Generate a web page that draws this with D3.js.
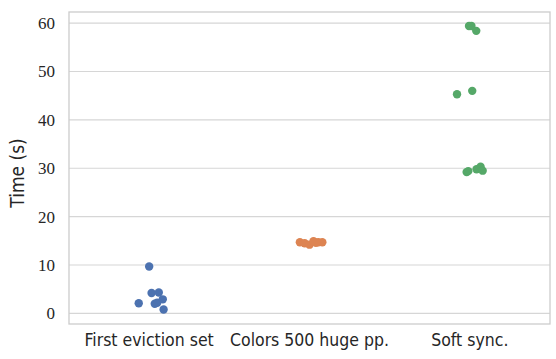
<!DOCTYPE html>
<html><head><meta charset="utf-8">
<script src="https://cdn.jsdelivr.net/npm/d3@7"></script>
<style>body{margin:0;background:#fff}svg{display:block}</style>
</head><body>
<svg id="c" width="556" height="359"></svg>
<script>
const categories = ["First eviction set", "Colors 500 huge pp.", "Soft sync."];
const colors = ["#4C72B0", "#DD8452", "#55A868"];
const evictionTimes = [9.7, 4.2, 4.3, 2.1, 2.0, 2.2, 2.9, 0.8];
const evictionJitter = [0.0, 0.015, 0.06, -0.065, 0.035, 0.05, 0.085, 0.09];
const colorsTimes = [14.7, 14.5, 14.2, 14.9, 14.7, 14.7, 14.6];
const colorsJitter = [-0.06, -0.03, 0.0, 0.025, 0.055, 0.08, 0.04];
const softTimes = [59.4, 59.4, 58.4, 45.3, 46.0, 29.2, 29.4, 29.8, 30.3, 29.5];
const softJitter = [-0.005, 0.01, 0.04, -0.08, 0.015, -0.02, -0.01, 0.042, 0.067, 0.08];
const yTicks = [0, 10, 20, 30, 40, 50, 60];

const series = [
  {cat: categories[0], vals: evictionTimes, jit: evictionJitter, color: colors[0]},
  {cat: categories[1], vals: colorsTimes, jit: colorsJitter, color: colors[1]},
  {cat: categories[2], vals: softTimes, jit: softJitter, color: colors[2]}
];

const svg = d3.select("#c");
const m = {l: 69, r: 6, t: 12, b: 35};
const W = 556, H = 359;
const x = d3.scaleBand().domain(categories).range([m.l, W - m.r]).padding(0);
const y = d3.scaleLinear().domain([-2.2, 62.3]).range([H - m.b, m.t]);

const grid = "#d6d6d6";
svg.append("g").selectAll("line").data(yTicks).join("line")
  .attr("x1", m.l).attr("x2", W - m.r)
  .attr("y1", d => y(d)).attr("y2", d => y(d))
  .attr("stroke", grid).attr("stroke-width", 1.2);

svg.append("rect").attr("x", m.l).attr("y", m.t)
  .attr("width", W - m.r - m.l).attr("height", H - m.b - m.t)
  .attr("fill", "none").attr("stroke", "#cccccc").attr("stroke-width", 1.3);

const ya = svg.append("g").attr("transform", `translate(${m.l},0)`)
  .call(d3.axisLeft(y).tickValues(yTicks).tickSize(0).tickPadding(14));
ya.select(".domain").remove();
ya.selectAll("text").attr("font-family", "'Liberation Serif', serif").attr("font-size", 17).attr("fill", "#262626");

const xa = svg.append("g").attr("transform", `translate(0,${H - m.b})`)
  .call(d3.axisBottom(x).tickSize(0).tickPadding(10));
xa.select(".domain").remove();
xa.selectAll("text").attr("font-family", "'DejaVu Sans Condensed', 'DejaVu Sans', sans-serif")
  .attr("font-stretch", "condensed").attr("font-size", 17.5).attr("fill", "#262626");

svg.append("text").attr("transform", `translate(24,173) rotate(-90)`)
  .attr("text-anchor", "middle").attr("font-family", "'DejaVu Sans Condensed', 'DejaVu Sans', sans-serif")
  .attr("font-stretch", "condensed")
  .attr("font-size", 19).attr("fill", "#262626").text("Time (s)");

series.forEach(s => {
  svg.append("g").selectAll("circle").data(s.vals).join("circle")
    .attr("cx", (d, i) => x(s.cat) + x.bandwidth() / 2 + s.jit[i] * x.bandwidth())
    .attr("cy", d => y(d))
    .attr("r", 4.2)
    .attr("fill", s.color);
});
</script>
</body></html>
